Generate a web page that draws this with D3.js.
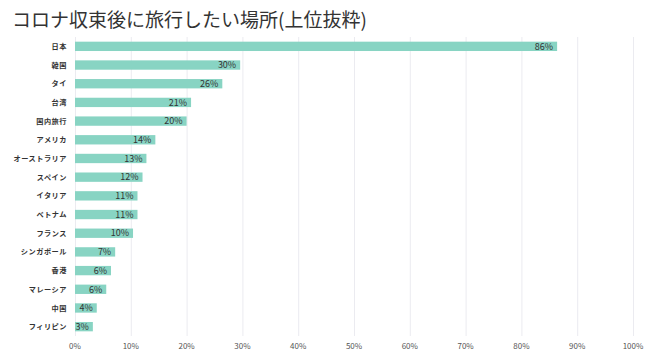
<!DOCTYPE html>
<html><head><meta charset="utf-8">
<script src="https://cdn.jsdelivr.net/npm/d3@7"></script>
<style>
body{margin:0;background:#fff;}
text{font-family:"Noto Sans CJK JP","Noto Sans",sans-serif;}
</style></head>
<body><svg id="c" width="650" height="355"></svg>
<script>
const categories = ["日本","韓国","タイ","台湾","国内旅行","アメリカ","オーストラリア","スペイン","イタリア","ベトナム","フランス","シンガポール","香港","マレーシア","中国","フィリピン"];
const values = [86.4,29.6,26.4,20.8,20.0,14.4,12.8,12.1,11.2,11.2,10.4,7.2,6.45,5.6,3.9,3.2];
const valueLabels = ["86%","30%","26%","21%","20%","14%","13%","12%","11%","11%","10%","7%","6%","6%","4%","3%"];
const ticks = [0,10,20,30,40,50,60,70,80,90,100];
const title = "コロナ収束後に旅行したい場所(上位抜粋)";

const svg = d3.select("#c");
const x = d3.scaleLinear().domain([0,100]).range([75,633]);
const y = d3.scaleBand().domain(categories).range([37,336]).paddingInner(0.5).paddingOuter(0.25);

svg.append("text").attr("x",12).attr("y",27).attr("font-size",19).attr("fill","#333").text(title);

svg.append("g").selectAll("line").data(ticks).join("line")
  .attr("x1",d=>x(d)+0.5).attr("x2",d=>x(d)+0.5).attr("y1",37).attr("y2",336)
  .attr("stroke","#ebebf0").attr("stroke-width",1);

svg.append("g").selectAll("text").data(ticks).join("text")
  .attr("x",d=>x(d)).attr("y",349).attr("text-anchor","middle")
  .attr("font-size",8).attr("fill","#555").text(d=>d+"%");

svg.append("g").selectAll("rect").data(values).join("rect")
  .attr("x",x(0)).attr("y",(d,i)=>y(categories[i]))
  .attr("width",d=>x(d)-x(0)).attr("height",y.bandwidth())
  .attr("fill","#88d4c3");

svg.append("g").selectAll("text").data(values).join("text")
  .attr("x",d=>x(d)-4).attr("y",(d,i)=>y(categories[i])+y.bandwidth()/2)
  .attr("dy","0.36em").attr("text-anchor","end")
  .attr("font-size",9).attr("fill","#333").text((d,i)=>valueLabels[i]);

svg.append("g").selectAll("text").data(categories).join("text")
  .attr("x",67).attr("y",d=>y(d)+y.bandwidth()/2).attr("dy","0.36em")
  .attr("text-anchor","end").attr("font-size",7.2).attr("font-weight","bold")
  .attr("letter-spacing","0.5px").attr("fill","#333").text(d=>d);
</script></body></html>
